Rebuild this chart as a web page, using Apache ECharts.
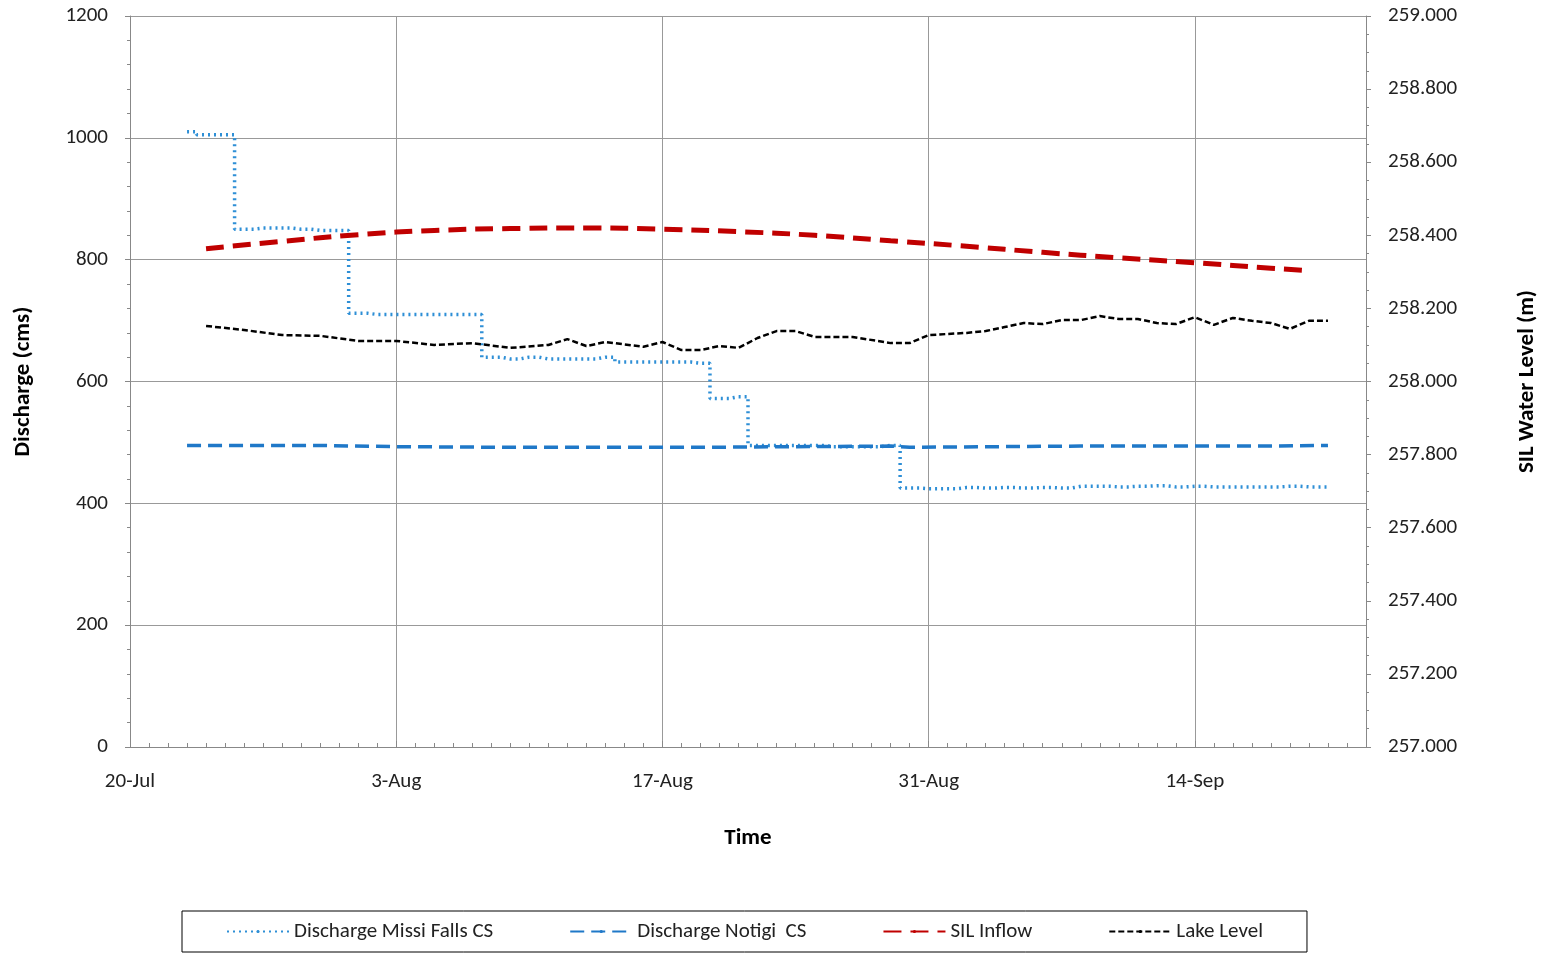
<!DOCTYPE html><html><head><meta charset="utf-8"><script src="https://cdn.jsdelivr.net/npm/echarts@6/dist/echarts.min.js"></script></head><body style="margin:0"><div id="c" style="width:1553px;height:955px"></div><script>
const tickLabels={0:'20-Jul',14:'3-Aug',28:'17-Aug',42:'31-Aug',56:'14-Sep'};
const missiDays=[3,4,5,6,7,8,9,10,11,12,13,14,15,16,17,18,19,20,21,22,23,24,25,26,27,28,29,30,31,32,33,34,35,36,37,38,39,40,41,42,43,44,45,46,47,48,49,50,51,52,53,54,55,56,57,58,59,60,61,62,63];
const missi=[1010,1005,1005,850,852,852,850,848,848,712,710,710,710,710,710,710,640,637,640,637,637,637,640,632,632,632,632,630,572,575,495,495,495,495,493,493,493,495,425,424,424,426,425,426,425,426,425,428,428,427,428,429,427,428,427,427,427,427,428,427,427];
const notigiDays=[3,10,14,20,30,40,41,50,60,63];
const notigi=[495,495,493,492,492,494,492,494,494,495];
const silDays=[4,8,12,16,20,24,28,32,36,40,44,48,52,56,60,62];
const sil=[818,830,841,848,851,852,850,846,840,831,822,812,803,795,786,782];
const lakeDays=[4,6,8,10,12,14,16,18,20,22,23,24,25,27,28,29,30,31,32,33,34,35,36,38,40,41,42,43,44,45,46,47,48,49,50,51,52,53,54,55,56,57,58,59,60,61,62,63];
const lake=[258.152,258.141,258.127,258.125,258.111,258.111,258.100,258.105,258.092,258.100,258.116,258.097,258.108,258.095,258.108,258.086,258.086,258.097,258.092,258.119,258.138,258.138,258.122,258.122,258.105,258.105,258.127,258.130,258.133,258.138,258.149,258.160,258.157,258.168,258.168,258.179,258.171,258.171,258.160,258.157,258.176,258.155,258.174,258.166,258.160,258.144,258.166,258.166];
const zip=(a,b)=>a.map((d,i)=>[d,b[i]]);
const F='Calibri, Carlito, "Liberation Sans", sans-serif';
const ch=echarts.init(document.getElementById('c'));
ch.setOption({
 textStyle:{fontFamily:F},
 grid:{left:130,right:187,top:16,bottom:208},
 legend:{bottom:3,left:182,width:1145,itemGap:76,padding:[10,44,10,44],borderColor:'#000',borderWidth:1,itemWidth:62,itemHeight:4,textStyle:{fontSize:21,color:'#222',fontFamily:F},
   data:['Discharge Missi Falls CS','Discharge Notigi  CS','SIL Inflow','Lake Level']},
 xAxis:{type:'value',min:0,max:65,interval:14,name:'Time',nameLocation:'middle',nameGap:80,nameTextStyle:{fontSize:23,fontWeight:'bold',color:'#000'},
   axisLine:{onZero:false,lineStyle:{color:'#888'}},axisTick:{show:true,length:-6,lineStyle:{color:'#888'}},minorTick:{show:true,splitNumber:14,length:-4},
   axisLabel:{fontSize:21,color:'#222',margin:24,formatter:v=>tickLabels[v]||''},splitLine:{lineStyle:{color:'#999'}}},
 yAxis:[{type:'value',min:0,max:1200,interval:200,name:'Discharge (cms)',nameLocation:'middle',nameGap:95,nameTextStyle:{fontSize:23,fontWeight:'bold',color:'#000'},
   axisLine:{show:true,lineStyle:{color:'#888'}},axisTick:{show:true,length:5},minorTick:{show:true,splitNumber:5,length:3},axisLabel:{fontSize:21,color:'#222',margin:22,formatter:v=>String(v)},splitLine:{lineStyle:{color:'#999'}}},
  {type:'value',min:257,max:259,interval:0.2,name:'SIL Water Level (m)',nameLocation:'middle',nameGap:150,nameRotate:90,nameTextStyle:{fontSize:23,fontWeight:'bold',color:'#000'},
   axisLine:{show:true,lineStyle:{color:'#888'}},axisTick:{show:true,length:5},minorTick:{show:true,splitNumber:4,length:3},axisLabel:{fontSize:21,color:'#222',margin:22,formatter:v=>v.toFixed(3)},splitLine:{show:false}}],
 series:[
  {name:'Discharge Missi Falls CS',type:'line',symbol:'none',step:'middle',data:zip(missiDays,missi),lineStyle:{color:'#2E8FD6',width:3.5,type:[2,4]},itemStyle:{color:'#2E8FD6'}},
  {name:'Discharge Notigi  CS',type:'line',symbol:'none',data:zip(notigiDays,notigi),lineStyle:{color:'#1F78C8',width:3.5,type:[14,7]},itemStyle:{color:'#1F78C8'}},
  {name:'SIL Inflow',type:'line',symbol:'none',smooth:true,data:zip(silDays,sil),lineStyle:{color:'#C00000',width:5,type:[18,9]},itemStyle:{color:'#C00000'}},
  {name:'Lake Level',type:'line',symbol:'none',yAxisIndex:1,data:zip(lakeDays,lake),lineStyle:{color:'#000',width:2.5,type:[6,3]},itemStyle:{color:'#000'}}
 ]});
</script></body></html>
